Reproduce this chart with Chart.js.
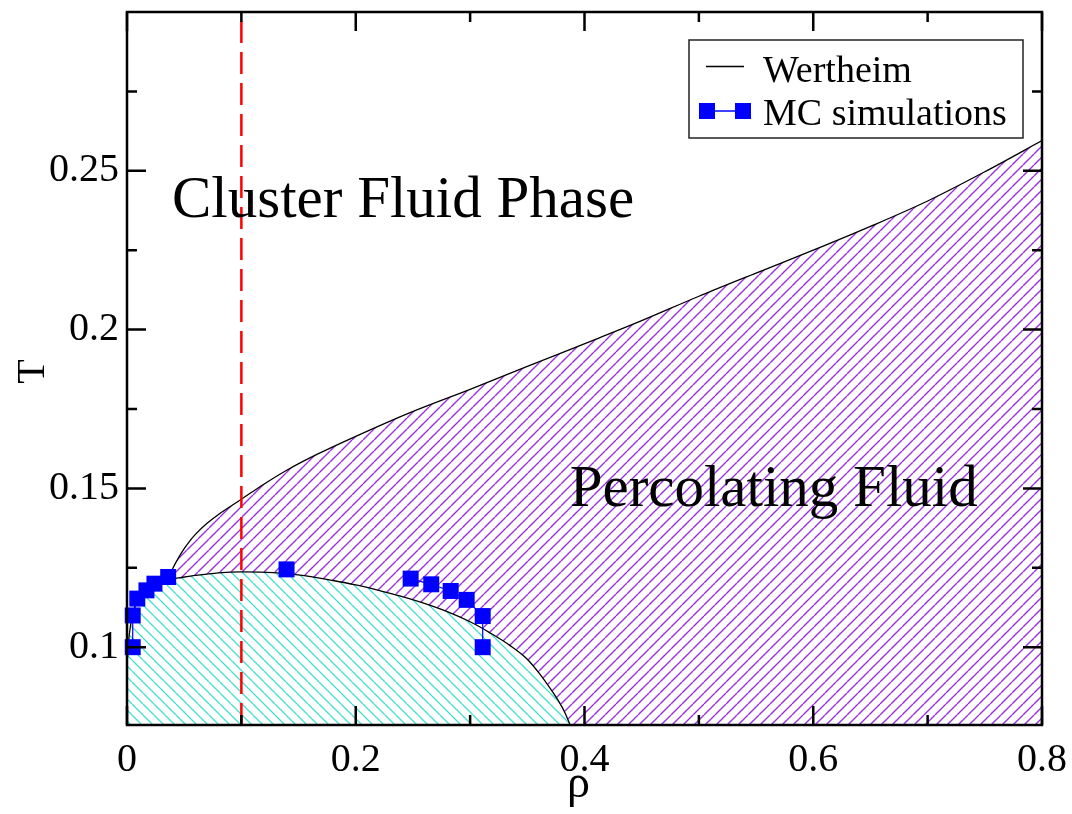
<!DOCTYPE html>
<html>
<head>
<meta charset="utf-8">
<script src="https://cdn.jsdelivr.net/npm/chart.js@4.4.1/dist/chart.umd.min.js"></script>
<style>
  html, body { margin: 0; padding: 0; background: #fff; }
</style>
</head>
<body>
<canvas id="Grafico" width="1072" height="814"></canvas>
<script>
'use strict';

// linha de percolação (Wertheim)
const percRho = [0.036, 0.040, 0.045, 0.050, 0.055, 0.060, 0.070, 0.080, 0.090, 0.100, 0.120, 0.140, 0.166, 0.200, 0.247, 0.300, 0.350, 0.413, 0.450, 0.500, 0.550, 0.600, 0.650, 0.700, 0.750, 0.800];
const percT   = [0.1218, 0.1248, 0.1281, 0.1310, 0.1335, 0.1356, 0.1390, 0.1418, 0.1442, 0.1466, 0.1514, 0.1558, 0.1607, 0.1664, 0.1738, 0.1812, 0.1884, 0.1974, 0.2028, 0.2105, 0.2178, 0.2250, 0.2325, 0.2405, 0.2497, 0.2595];

// curva de coexistência (Wertheim)
const coexRho = [0.000, 0.002, 0.005, 0.010, 0.016, 0.024, 0.036, 0.045, 0.060, 0.080, 0.100, 0.128, 0.155, 0.180, 0.200, 0.220, 0.240, 0.260, 0.280, 0.300, 0.317, 0.335, 0.350, 0.361, 0.370, 0.378, 0.383, 0.3875];
const coexT   = [0.0950, 0.1040, 0.1105, 0.1155, 0.1180, 0.1198, 0.1213, 0.1218, 0.1226, 0.1234, 0.1237, 0.1235, 0.1225, 0.1210, 0.1196, 0.1179, 0.1160, 0.1138, 0.1112, 0.1080, 0.1046, 0.1005, 0.0962, 0.0915, 0.0870, 0.0826, 0.0793, 0.0755];

// pontos de simulação MC
const mcRhoEsq = [0.005, 0.005, 0.009, 0.017, 0.024, 0.036];
const mcTEsq   = [0.1000, 0.1100, 0.1153, 0.1179, 0.1200, 0.1221];
const mcRhoMeio = [0.1395];
const mcTMeio   = [0.1245];
const mcRhoDir = [0.248, 0.266, 0.283, 0.297, 0.311, 0.311];
const mcTDir   = [0.1216, 0.1198, 0.1177, 0.1149, 0.1098, 0.1000];

// limite de densidade (linha tracejada)
const rhoLimite = 0.1;

const xTicks = [0, 0.2, 0.4, 0.6, 0.8];
const xMinor = [0.1, 0.3, 0.5, 0.7];
const yTicks = [0.1, 0.15, 0.2, 0.25];
const yMinor = [0.125, 0.175, 0.225, 0.275];
const xMin = 0, xMax = 0.8, yMin = 0.0755, yMax = 0.3;

const serif = "'Liberation Serif', 'Times New Roman', serif";

const pares = (xs, ys) => xs.map((v, i) => ({ x: v, y: ys[i] }));

function hachura(cor, sentido, largura) {
  const s = 11;
  const c = document.createElement('canvas');
  c.width = s; c.height = s;
  const g = c.getContext('2d');
  g.fillStyle = '#fff';
  g.fillRect(0, 0, s, s);
  g.strokeStyle = cor;
  g.lineWidth = largura;
  g.beginPath();
  for (const k of [-s, 0, s]) {
    if (sentido === '/') { g.moveTo(k, s); g.lineTo(k + s, 0); }
    else { g.moveTo(k, 0); g.lineTo(k + s, s); }
  }
  g.stroke();
  return g.createPattern(c, 'repeat');
}

const mcEstilo = {
  borderColor: '#0000ff',
  borderWidth: 1.2,
  pointStyle: 'rect',
  pointRadius: 11.3,
  pointBackgroundColor: '#0000ff',
  pointBorderWidth: 0,
  fill: false,
  clip: false,
  order: 1
};

// moldura, ticks internos, textos e legenda
const decoracao = {
  id: 'decoracao',
  afterDatasetsDraw(chart) {
    const { ctx, chartArea: a, scales: { x, y } } = chart;
    ctx.save();

    ctx.fillStyle = '#000';
    ctx.textAlign = 'left';
    ctx.textBaseline = 'alphabetic';
    ctx.font = '59px ' + serif;
    ctx.fillText('Cluster Fluid Phase', x.getPixelForValue(0.0393), y.getPixelForValue(0.2355));
    ctx.fillText('Percolating Fluid', x.getPixelForValue(0.387), y.getPixelForValue(0.1444));

    // eixos
    ctx.strokeStyle = '#000';
    ctx.lineWidth = 2.5;
    ctx.beginPath();
    const tick = (vals, len) => {
      vals.forEach(v => {
        const px = x.getPixelForValue(v);
        ctx.moveTo(px, a.bottom); ctx.lineTo(px, a.bottom - len);
        ctx.moveTo(px, a.top); ctx.lineTo(px, a.top + len);
      });
    };
    const tickY = (vals, len) => {
      vals.forEach(v => {
        const py = y.getPixelForValue(v);
        ctx.moveTo(a.left, py); ctx.lineTo(a.left + len, py);
        ctx.moveTo(a.right, py); ctx.lineTo(a.right - len, py);
      });
    };
    tick(xTicks, 19); tick(xMinor, 10);
    tickY(yTicks, 19); tickY(yMinor, 10);
    ctx.stroke();
    ctx.strokeRect(a.left, a.top, a.right - a.left, a.bottom - a.top);

    // títulos dos eixos
    ctx.font = '46px ' + serif;
    ctx.textAlign = 'center';
    ctx.fillText('ρ', (a.left + a.right) / 2 - 6, 797);
    ctx.save();
    ctx.font = '40px ' + serif;
    ctx.translate(44, (a.top + a.bottom) / 2 + 3);
    ctx.rotate(-Math.PI / 2);
    ctx.fillText('T', 0, 0);
    ctx.restore();

    // legenda
    const lx = a.right - 353, ly = a.top + 28, lw = 334, lh = 98;
    ctx.fillStyle = '#fff';
    ctx.fillRect(lx, ly, lw, lh);
    ctx.lineWidth = 1.5;
    ctx.strokeStyle = '#222';
    ctx.strokeRect(lx, ly, lw, lh);
    ctx.strokeStyle = '#000';
    ctx.lineWidth = 1.3;
    ctx.beginPath();
    ctx.moveTo(lx + 17, ly + 26.5); ctx.lineTo(lx + 55, ly + 26.5);
    ctx.stroke();
    ctx.strokeStyle = '#0000ff';
    ctx.beginPath();
    ctx.moveTo(lx + 18, ly + 71); ctx.lineTo(lx + 54, ly + 71);
    ctx.stroke();
    ctx.fillStyle = '#0000ff';
    ctx.fillRect(lx + 10, ly + 63, 16, 16);
    ctx.fillRect(lx + 46, ly + 63, 16, 16);
    ctx.fillStyle = '#000';
    ctx.textAlign = 'left';
    ctx.font = '38px ' + serif;
    ctx.fillText('Wertheim', lx + 74, ly + 42);
    ctx.fillText('MC simulations', lx + 74, ly + 85);

    ctx.restore();
  }
};

const ctx = document.getElementById('Grafico');
new Chart(ctx, {
  type: 'line',
  data: {
    datasets: [
      {
        label: 'Percolação',
        data: pares(percRho, percT),
        borderColor: '#000',
        borderWidth: 1.3,
        pointRadius: 0,
        cubicInterpolationMode: 'monotone',
        fill: 'start',
        backgroundColor: hachura('#9b2fe0', '/', 1.4),
        order: 4
      },
      {
        label: 'Coexistência',
        data: pares(coexRho, coexT),
        borderColor: '#000',
        borderWidth: 1.3,
        pointRadius: 0,
        cubicInterpolationMode: 'monotone',
        fill: 'start',
        backgroundColor: hachura('#40e0d0', '\\', 1.3),
        order: 3
      },
      {
        label: 'Limite',
        data: [{ x: rhoLimite, y: yMin }, { x: rhoLimite, y: yMax }],
        borderColor: '#ff0000',
        borderWidth: 2.5,
        borderDash: [22, 9],
        pointRadius: 0,
        fill: false,
        order: 2
      },
      Object.assign({ label: 'MC simulations', data: pares(mcRhoEsq, mcTEsq) }, mcEstilo),
      Object.assign({ label: 'MC meio', data: pares(mcRhoMeio, mcTMeio) }, mcEstilo),
      Object.assign({ label: 'MC dir', data: pares(mcRhoDir, mcTDir) }, mcEstilo)
    ]
  },
  options: {
    responsive: false,
    animation: false,
    devicePixelRatio: 1,
    layout: { padding: { top: 12, right: 30, left: 0, bottom: 0 } },
    plugins: { legend: { display: false }, tooltip: { enabled: false } },
    scales: {
      x: {
        type: 'linear',
        min: xMin,
        max: xMax,
        afterFit(s) { s.height = 89; s.paddingLeft = 0; s.paddingRight = 0; },
        afterBuildTicks(s) { s.ticks = xTicks.map(v => ({ value: v })); },
        ticks: {
          color: '#000',
          font: { family: serif, size: 40 },
          padding: 11,
          maxRotation: 0,
          autoSkip: false,
          callback: v => String(v)
        },
        grid: { display: false, drawTicks: false },
        border: { display: false }
      },
      y: {
        type: 'linear',
        min: yMin,
        max: yMax,
        afterFit(s) { s.width = 127; s.paddingTop = 0; s.paddingBottom = 0; },
        afterBuildTicks(s) { s.ticks = yTicks.map(v => ({ value: v })); },
        ticks: {
          color: '#000',
          font: { family: serif, size: 40 },
          padding: 8,
          autoSkip: false,
          callback: v => String(v)
        },
        grid: { display: false, drawTicks: false },
        border: { display: false }
      }
    }
  },
  plugins: [decoracao]
});
</script>
</body>
</html>
